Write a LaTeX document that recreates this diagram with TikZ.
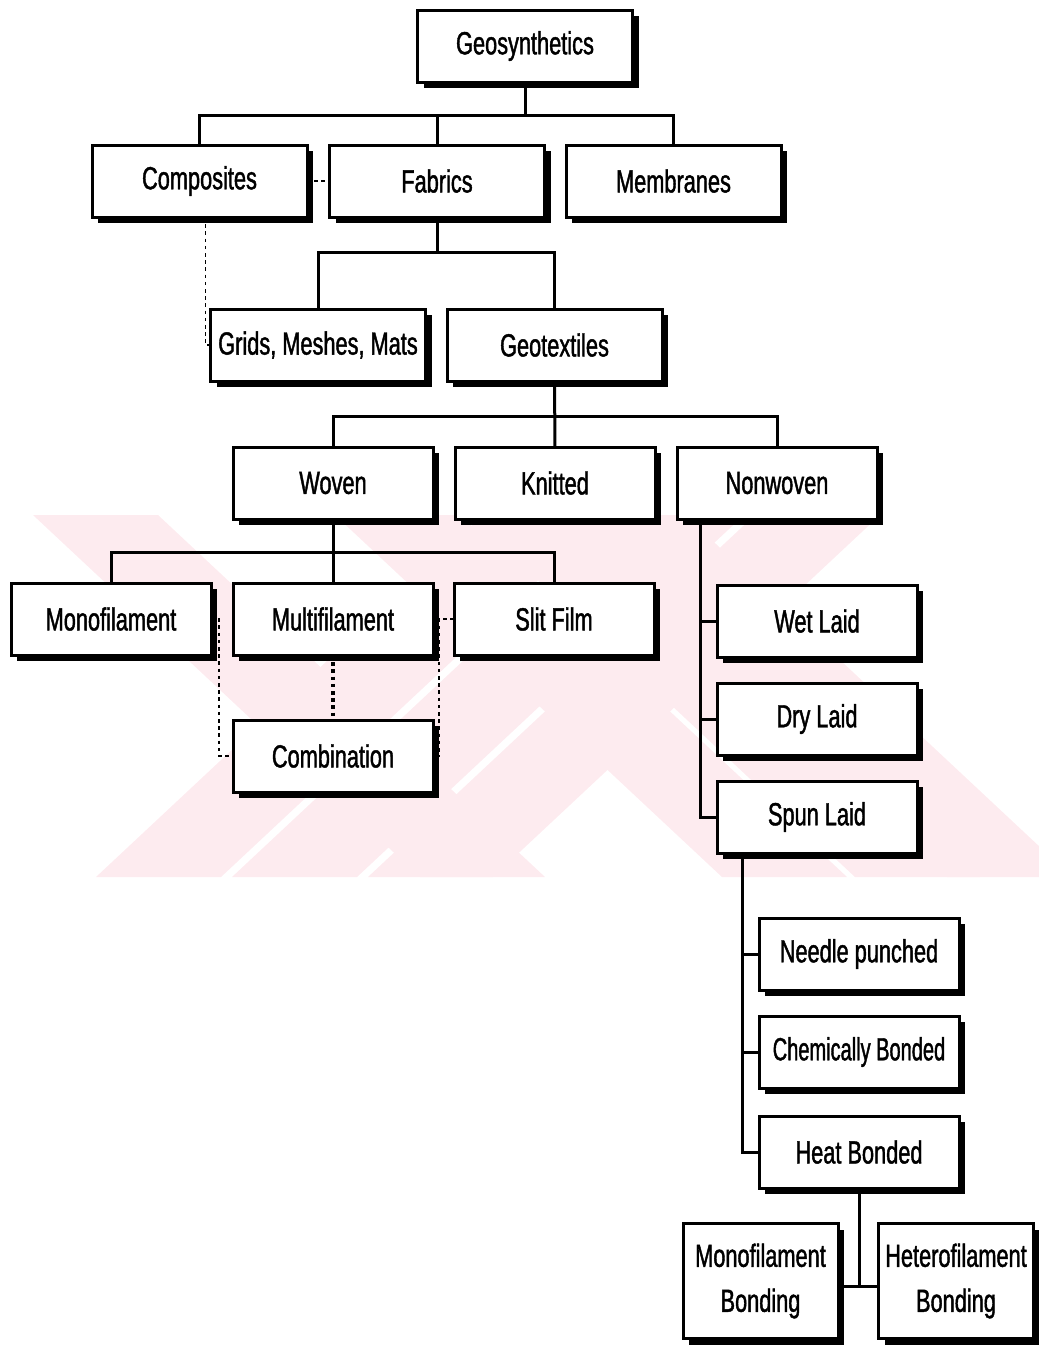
\documentclass[tikz,border=0pt]{standalone}
\usepackage{fontspec}
\setmainfont{Liberation Sans}[FakeStretch=0.68,FakeBold=1.3]
\usepackage{graphicx}
\usetikzlibrary{positioning}
\usetikzlibrary{calc}
\usetikzlibrary{shadows}
\definecolor{wmpink}{RGB}{253,235,239}
\tikzset{
        every node/.style={align=center,outer sep=0pt},
        every path/.style={line width=1.5pt},
        box/.style={draw,fill=white,line width=1.5pt,inner sep=0pt,
                minimum width=100pt,minimum height=36pt,
                font=\fontsize{16}{22.5}\selectfont,
                drop shadow={shadow xshift=3pt,shadow yshift=-3pt,fill=black,opacity=1}},
        widebox/.style={box,minimum width=107.5pt},
        tallbox/.style={box,minimum width=77.5pt,minimum height=57.5pt},
        link/.style={line width=0.9pt,dash pattern=on 1.8pt off 1.8pt},
        }

\begin{document}
\begin{tikzpicture}[x=0.5pt,y=-0.5pt]

		\useasboundingbox (0,0) rectangle (1039,1351);

		% watermark.....................
		\foreach \b in {96,232,368}
			\fill [wmpink] (\b,877) -- ++(125,0) -- ++(387,-362) -- ++(-125,0) -- cycle;
		\foreach \t in {33,335,468,560}
			\fill [wmpink] (\t,515) -- ++(125,0) -- ++(387,362) -- ++(-125,0) -- cycle;

		% top levels......................
		\node [widebox] (geo) at (525,46) {Geosynthetics};
		\node [widebox] (comp) at (199.5,181) {Composites};
		\node [widebox] (fab) at (437,181) {Fabrics};
		\node [widebox] (mem) at (673.5,181) {Membranes};
		\node [widebox] (grids) at (318,345) {Grids, Meshes, Mats};
		\node [widebox] (geotex) at (554.5,345) {Geotextiles};

		% geotextile types...................
		\node [box] (woven) at (333,483) {Woven};
		\node [box] (knit) at (555,483) {Knitted};
		\node [box] (nonwov) at (777,483) {Nonwoven};

		% woven types...................
		\node [box] (mono) at (111,619) {Monofilament};
		\node [box] (multi) at (333,619) {Multifilament};
		\node [box] (slit) at (554,619) {Slit Film};
		\node [box] (comb) at (333,756) {Combination};

		% nonwoven types...................
		\node [box] (wet) at (817,621) {Wet Laid};
		\node [box] (dry) at (817,719) {Dry Laid};
		\node [box] (spun) at (817,817) {Spun Laid};
		\node [box] (needle) at (859,954) {Needle punched};
		\node [box] (chem) at (859,1052) {\scalebox{0.92}[1]{Chemically Bonded}};
		\node [box] (heat) at (859,1152) {Heat Bonded};
		\node [tallbox] (monob) at (760.5,1281) {Monofilament\\Bonding};
		\node [tallbox] (hetb) at (956,1281) {Heterofilament\\Bonding};

		% buses and trunks.....................
		\coordinate (busA) at (525,115);
		\coordinate (busB) at (437,252);
		\coordinate (busC) at (555,416);
		\coordinate (busD) at (333,552);
		\coordinate (busE) at (859,1286);
		\coordinate (trunkA) at (700,0);
		\coordinate (trunkB) at (742,0);

		% solid connectors..............................
		\draw (geo.south) -- (busA);
		\draw (comp.north) |- (busA) -| (mem.north);
		\draw (fab.north) -- (fab.north |- busA);
		\draw (fab.south) -- (busB);
		\draw (grids.north) |- (busB) -| (geotex.north);
		\draw (geotex.south) -- (knit.north);
		\draw (woven.north) |- (busC) -| (nonwov.north);
		\draw (woven.south) -- (multi.north);
		\draw (mono.north) |- (busD) -| (slit.north);
		\draw (trunkA |- nonwov.south) |- (spun.west);
		\draw (trunkA |- wet.west) -- (wet.west);
		\draw (trunkA |- dry.west) -- (dry.west);
		\draw (trunkB |- spun.south) |- (heat.west);
		\draw (trunkB |- needle.west) -- (needle.west);
		\draw (trunkB |- chem.west) -- (chem.west);
		\draw (heat.south) -- (busE);
		\draw (monob.east |- busE) -- (hetb.west |- busE);

		% dotted links..............................
		\draw [link] (comp.east) -- (fab.west);
		\draw [link] ([xshift=3pt]comp.south) |- (grids.west);
		\draw [link] (mono.east) -- ++(8,0) |- (comb.west);
		\draw [link,line width=1.8pt] (multi.south) -- (comb.north);
		\draw [link] (slit.west) -- ++(-15,0) |- (comb.east);

	\end{tikzpicture}
\end{document}
